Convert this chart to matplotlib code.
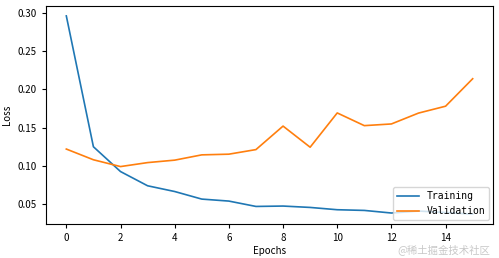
import matplotlib
matplotlib.use("Agg")
import matplotlib.pyplot as plt

plt.rcParams['font.family'] = ['Noto Sans CJK SC', 'DejaVu Sans']

epochs = list(range(16))
training = [0.296, 0.125, 0.0926, 0.074, 0.0665, 0.0566, 0.054, 0.047, 0.0475, 0.0457,
            0.0427, 0.0418, 0.0384, 0.041, 0.039, 0.037]
validation = [0.122, 0.108, 0.0991, 0.1043, 0.1075, 0.1144, 0.1153, 0.1213, 0.152, 0.1244,
              0.1692, 0.1526, 0.1548, 0.169, 0.178, 0.2139]
xticks = [0, 2, 4, 6, 8, 10, 12, 14]
yticks = [0.05, 0.10, 0.15, 0.20, 0.25, 0.30]

fig = plt.figure(figsize=(4.99, 2.58), dpi=100)
ax = fig.add_axes([46/499, 1-224/258, (493-46)/499, (224-6)/258])
ax.plot(epochs, training, color='#1f77b4', lw=1.2, label='Training')
ax.plot(epochs, validation, color='#ff7f0e', lw=1.2, label='Validation')
ax.set_xticks(xticks)
ax.set_yticks(yticks)
ax.set_yticklabels([f'{v:.2f}' for v in yticks])
ax.tick_params(labelsize=7, length=3, width=0.8)
ax.set_xlabel('Epochs', fontsize=7, labelpad=2)
ax.set_ylabel('Loss', fontsize=7, labelpad=4)
ax.legend(loc='lower right', prop={'family': 'DejaVu Sans Mono', 'size': 7},
          borderaxespad=0.4, handlelength=2.2, fancybox=True)
fig.text(0.983, 0.012, '@稀土掘金技术社区', ha='right', va='bottom', fontsize=7.5,
         color='#c8c8c8')
fig.savefig('out.png', dpi=100)
